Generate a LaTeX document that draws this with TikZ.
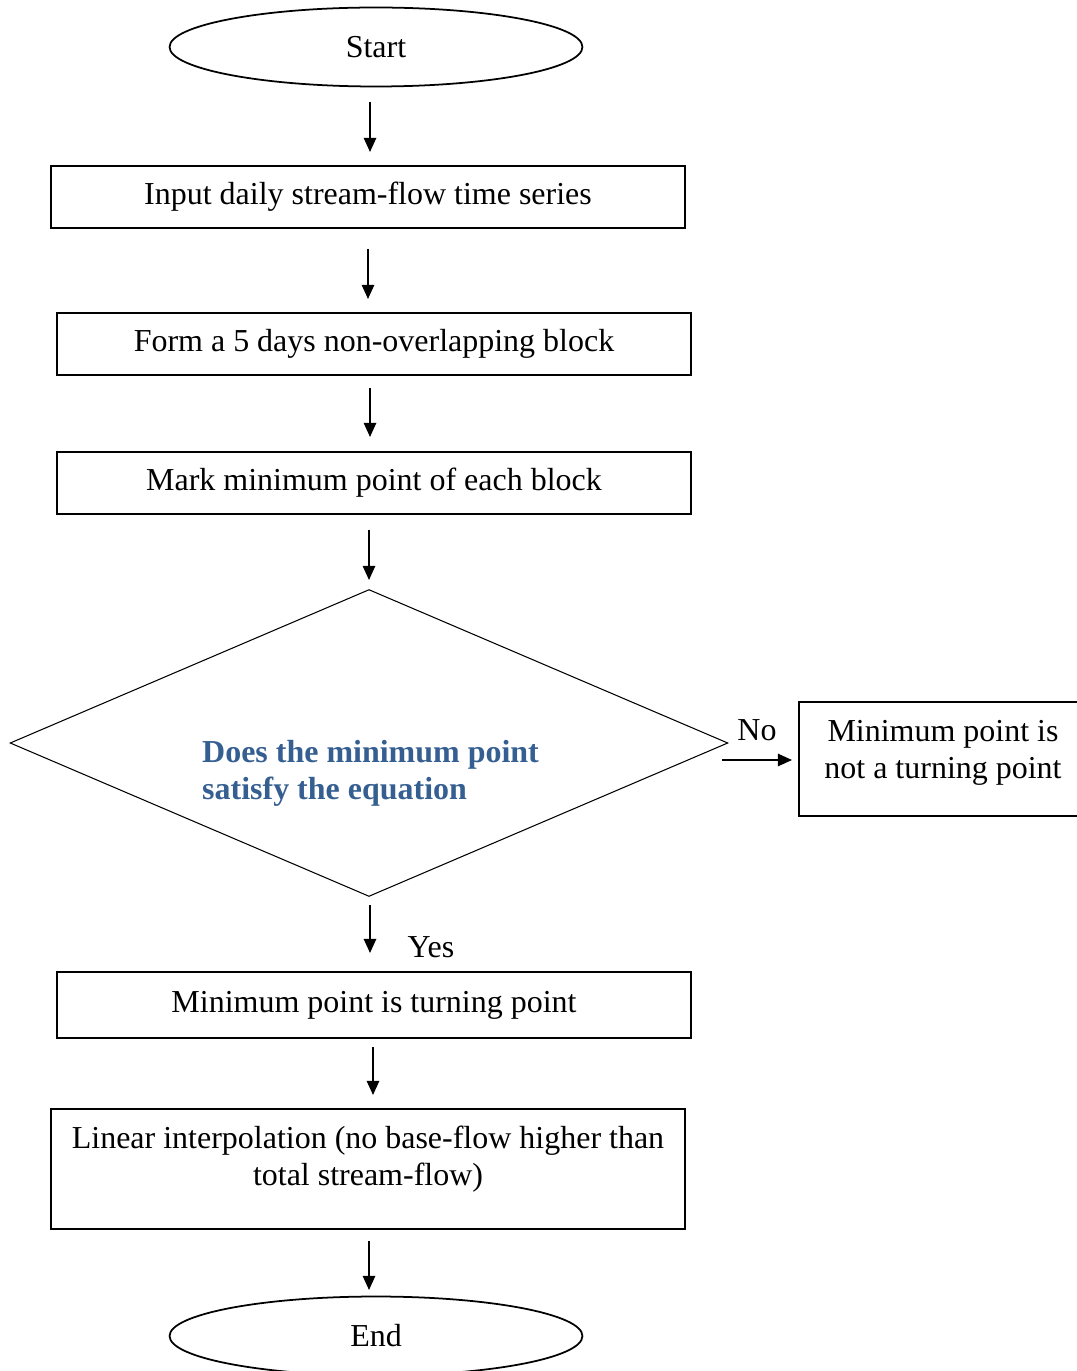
\documentclass[tikz,border=0pt]{standalone}
\usepackage{fontspec}
\setmainfont{Liberation Serif}
\usetikzlibrary{shapes.geometric,arrows.meta,positioning}
\definecolor{questionblue}{RGB}{54,95,145}

\begin{document}
\begin{tikzpicture}[
    x=0.02cm, y=-0.02cm,
    every node/.style={font=\fontsize{18.2}{21}\selectfont},
    terminal/.style={ellipse, draw, line width=1pt, minimum width=8.26cm, minimum height=1.58cm, inner sep=0pt},
    procbox/.style={rectangle, draw, line width=1pt, minimum width=12.68cm, minimum height=1.24cm, inner sep=0pt},
    decision/.style={diamond, draw, line width=0.6pt, minimum width=14.36cm, minimum height=6.14cm, inner sep=0pt},
    flow/.style={-{Triangle[length=8pt,width=7pt]}, line width=1pt}
]
    \useasboundingbox (0,0) rectangle (1076,1371);

    % Terminals
    \node[terminal] (start) at (376,47) {Start};
    \node[terminal] (end) at (376,1336) {End};

    % Process boxes
    \node[procbox] (input) at (368,197) {Input daily stream-flow time series};
    \node[procbox] (block) at (374,344) {Form a 5 days non-overlapping block};
    \node[procbox] (mark) at (374,483) {Mark minimum point of each block};
    \node[procbox, minimum height=1.32cm] (turning) at (374,1005) {Minimum point is turning point};
    \node[procbox, minimum height=2.4cm] (interp) at (368,1169) {};
    \node[anchor=north, align=center] (interptext) at (368,1120) {Linear interpolation (no base-flow higher than\\total stream-flow)};

    % Decision
    \node[decision] (check) at (369,743) {};
    \node[anchor=west, align=left, text=questionblue, font=\fontsize{18.2}{21}\selectfont\bfseries] (checktext) at (196,773) {Does the minimum point\\satisfy the equation};

    % Not a turning point (cut at the right edge)
    \node[procbox, minimum width=6cm, minimum height=2.28cm] (notturn) at (949,759) {};
    \node[anchor=north, align=center] (notturntext) at (943,714) {Minimum point is\\not a turning point};

    % Arrow ends
    \coordinate (a1s) at (370,102); \coordinate (a1e) at (370,152);
    \coordinate (a2s) at (368,249); \coordinate (a2e) at (368,299);
    \coordinate (a3s) at (370,388); \coordinate (a3e) at (370,437);
    \coordinate (a4s) at (369,530); \coordinate (a4e) at (369,580);
    \coordinate (a5s) at (370,905); \coordinate (a5e) at (370,953);
    \coordinate (a6s) at (373,1047); \coordinate (a6e) at (373,1095);
    \coordinate (a7s) at (369,1241); \coordinate (a7e) at (369,1290);
    \coordinate (nos) at (722,760); \coordinate (noe) at (792,760);

    % Arrows
    \draw[flow] (a1s) -- (a1e);
    \draw[flow] (a2s) -- (a2e);
    \draw[flow] (a3s) -- (a3e);
    \draw[flow] (a4s) -- (a4e);
    \draw[flow] (a5s) -- (a5e);
    \draw[flow] (a6s) -- (a6e);
    \draw[flow] (a7s) -- (a7e);
    \draw[flow] (nos) -- (noe);

    % Branch labels
    \node (nolabel) at (757,730) {No};
    \node (yeslabel) at (431,947) {Yes};
\end{tikzpicture}
\end{document}
